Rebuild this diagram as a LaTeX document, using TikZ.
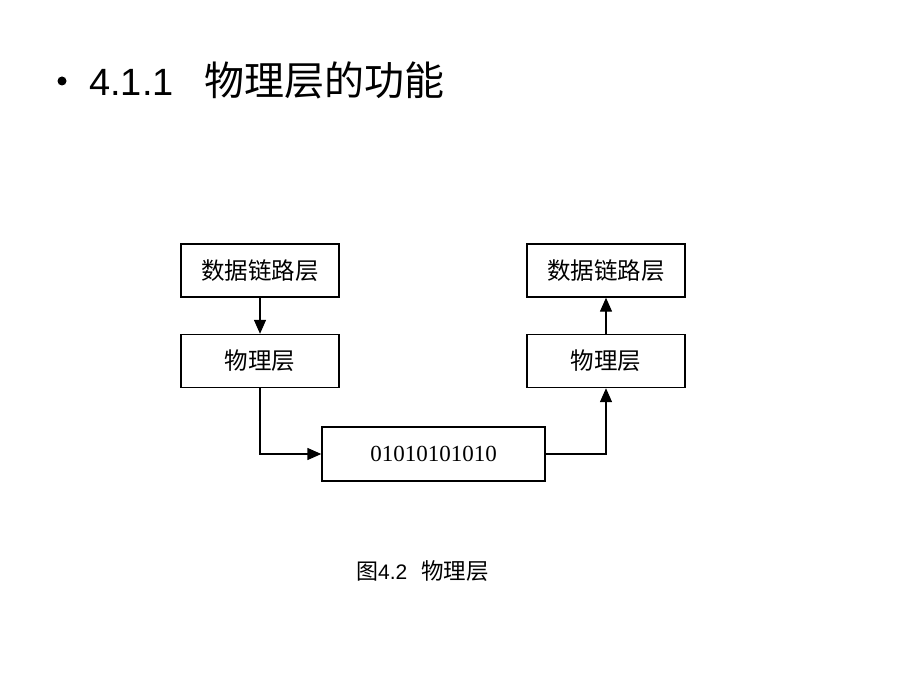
\documentclass[tikz,border=0pt]{standalone}
\usepackage{fontspec}
\setmainfont{Liberation Sans}
\newfontfamily\cjk{Noto Sans CJK SC}
\newfontfamily\tnr{Liberation Serif}
\usetikzlibrary{arrows.meta}
\begin{document}
\begin{tikzpicture}[x=1pt,y=-1pt,
	layer/.style={draw,line width=1.4pt,minimum width=158pt,minimum height=53pt,inner sep=0pt,font=\cjk\fontsize{23.5}{23.5}\selectfont},
	flow/.style={line width=1.4pt,-{Triangle[length=14pt,width=12pt]}}]
		\useasboundingbox (0,0) rectangle (920,690);
		% title line
		\node[circle,fill=black,inner sep=0pt,minimum size=9pt] (dot) at (62,81) {};
		\node[anchor=base west,inner sep=0pt,font=\fontsize{38}{38}\selectfont] (title) at (89,96) {4.1.1\hspace{31pt}{\cjk\fontsize{40}{40}\selectfont 物理层的功能}};
		% sender side
		\node[layer] (dl1) at (260,270.5) {数据链路层};
		\node[layer] (ph1) at (260,361) {物理层};
		% receiver side
		\node[layer] (dl2) at (606,270.5) {数据链路层};
		\node[layer] (ph2) at (606,361) {物理层};
		% bit stream
		\node[layer,minimum width=223pt,minimum height=54pt,font=\tnr\fontsize{23}{23}\selectfont] (bits) at (433.5,454) {01010101010};
		\draw[flow] (dl1) -- (ph1);
		\draw[flow] (ph1) |- (bits);
		\draw[flow] (bits) -| (ph2);
		\draw[flow] (ph2) -- (dl2);
		% caption
		\node[anchor=base west,inner sep=0pt,font=\fontsize{21}{21}\selectfont] (cap) at (356,579) {{\cjk\fontsize{22}{22}\selectfont 图}4.2\hspace{14pt}{\cjk\fontsize{22.5}{22.5}\selectfont 物理层}};
	\end{tikzpicture}
\end{document}
